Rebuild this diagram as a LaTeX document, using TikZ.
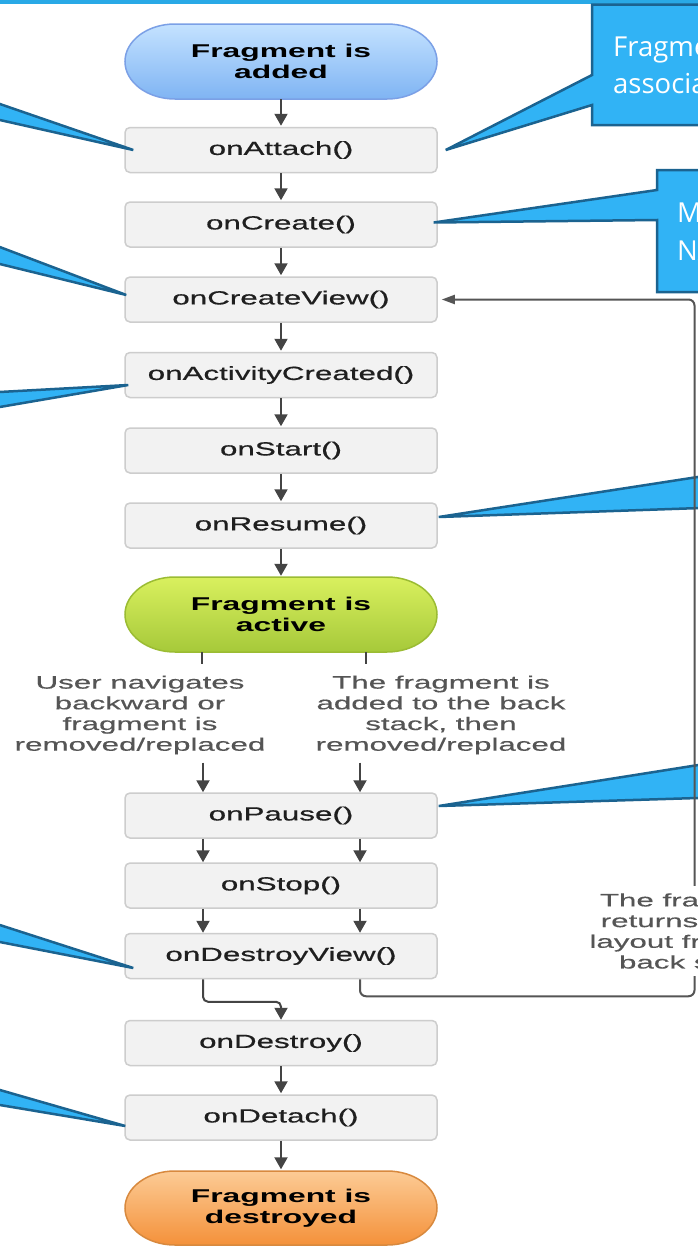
\documentclass[tikz,border=0pt]{standalone}
\usepackage{fontspec}
\newfontfamily\diagfont[FakeStretch=1.65,FakeBold=0.6]{Liberation Sans}
\newfontfamily\lblfont[FakeStretch=1.74,FakeBold=0.4]{Liberation Sans}
\newfontfamily\pillfont[FakeStretch=1.72]{Liberation Sans Bold}
\newfontfamily\calloutfont{Open Sans}
\usetikzlibrary{arrows.meta,calc}

\definecolor{boxfill}{HTML}{F2F2F2}
\definecolor{boxline}{HTML}{CDCDCD}
\definecolor{arrowc}{HTML}{444444}
\definecolor{loopc}{HTML}{555555}
\definecolor{callfill}{HTML}{31B3F5}
\definecolor{callline}{HTML}{1B6390}
\definecolor{topbar}{HTML}{29A9E6}
\definecolor{lbltext}{HTML}{555555}
\definecolor{blueTop}{HTML}{C4E2FF}
\definecolor{blueBot}{HTML}{7FB4F3}
\definecolor{blueLine}{HTML}{7BA0E6}
\definecolor{greenTop}{HTML}{D9F05E}
\definecolor{greenBot}{HTML}{A6C93A}
\definecolor{greenLine}{HTML}{9BBC33}
\definecolor{orangeTop}{HTML}{FCCB95}
\definecolor{orangeBot}{HTML}{F4913A}
\definecolor{orangeLine}{HTML}{D8893E}

\begin{document}
\begin{tikzpicture}[x=1pt,y=-1pt,
  lifebox/.style={rectangle, rounded corners=5pt, draw=boxline, line width=1.5pt,
    fill=boxfill, minimum width=312pt, minimum height=45pt, inner sep=0pt,
    font=\diagfont\fontsize{19}{22}\selectfont, text=black!88},
  pilltext/.style={rectangle, minimum width=312pt, minimum height=75pt, inner sep=0pt,
    align=center, font=\pillfont\fontsize{18.5}{20.5}\selectfont, text=black},
  flow/.style={draw=arrowc, line width=2pt, -{Triangle[width=13pt,length=12pt]}},
  stub/.style={draw=arrowc, line width=2pt},
  loopline/.style={draw=loopc, line width=2pt, rounded corners=6pt},
  lbl/.style={align=center, font=\lblfont\fontsize{18}{20.7}\selectfont,
    text=lbltext, inner sep=0pt},
  callout/.style={fill=callfill, draw=callline, line width=2.5pt},
  calltext/.style={font=\calloutfont\fontsize{27.5}{37}\selectfont, text=white,
    anchor=base west, inner sep=0pt},
]
\useasboundingbox (0,0) rectangle (698,1250);
\clip (0,0) rectangle (698,1250);
\fill[white] (0,0) rectangle (698,1250);
\fill[topbar] (0,0) rectangle (698,3.5);

% ---- pills ----
\shadedraw[top color=blueTop, bottom color=blueBot, draw=blueLine, line width=1.5pt]
  (175,24) -- (387,24) arc[start angle=-90,end angle=90,x radius=50,y radius=37.5]
  -- (175,99) arc[start angle=90,end angle=270,x radius=50,y radius=37.5] -- cycle;
\shadedraw[top color=greenTop, bottom color=greenBot, draw=greenLine, line width=1.5pt]
  (175,577) -- (387,577) arc[start angle=-90,end angle=90,x radius=50,y radius=37.5]
  -- (175,652) arc[start angle=90,end angle=270,x radius=50,y radius=37.5] -- cycle;
\shadedraw[top color=orangeTop, bottom color=orangeBot, draw=orangeLine, line width=1.5pt]
  (175,1171) -- (387,1171) arc[start angle=-90,end angle=90,x radius=50,y radius=37]
  -- (175,1245) arc[start angle=90,end angle=270,x radius=50,y radius=37] -- cycle;

% ---- nodes ----
\node[pilltext] (added) at (281,61.5) {Fragment is\\added};
\node[lifebox] (attach) at (281,150) {onAttach()};
\node[lifebox] (create) at (281,224.5) {onCreate()};
\node[lifebox] (cview) at (281,299.5) {onCreateView()};
\node[lifebox] (acreated) at (281,375) {onActivityCreated()};
\node[lifebox] (start) at (281,450.5) {onStart()};
\node[lifebox] (resume) at (281,525.5) {onResume()};
\node[pilltext] (active) at (281,614.5) {Fragment is\\active};
\node[lbl] (lblL) at (140,715) {User navigates\\backward or\\fragment is\\removed/replaced};
\node[lbl] (lblR) at (441,715) {The fragment is\\added to the back\\stack, then\\removed/replaced};
\node[lifebox] (pause) at (281,815.5) {onPause()};
\node[lifebox] (stop) at (281,885.5) {onStop()};
\node[lifebox] (dview) at (281,956) {onDestroyView()};
\node[lifebox] (destroy) at (281,1043) {onDestroy()};
\node[lifebox] (detach) at (281,1117.5) {onDetach()};
\node[pilltext] (destroyed) at (281,1208) {Fragment is\\destroyed};

\coordinate (colL) at (203,0);
\coordinate (colR) at (360,0);
\coordinate (stubL) at (202,0);
\coordinate (stubR) at (366,0);
\coordinate (loopX) at (694.5,0);

% ---- straight arrows ----
\foreach \a/\b in {added/attach, attach/create, create/cview, cview/acreated,
  acreated/start, start/resume, resume/active, destroy/detach, detach/destroyed}
  \draw[flow, shorten >=1pt] (\a) -- (\b);

% ---- split branches ----
\draw[stub, shorten >=11pt] (active.south -| stubL) -- (lblL.north -| stubL);
\draw[stub, shorten >=11pt] (active.south -| stubR) -- (lblR.north -| stubR);
\draw[flow, shorten <=8pt] (lblL.south -| colL) -- (pause.north -| colL);
\draw[flow, shorten <=8pt] (lblR.south -| colR) -- (pause.north -| colR);
\draw[flow] (pause.south -| colL) -- (stop.north -| colL);
\draw[flow] (pause.south -| colR) -- (stop.north -| colR);
\draw[flow] (stop.south -| colL) -- (dview.north -| colL);
\draw[flow] (stop.south -| colR) -- (dview.north -| colR);
\draw[flow, rounded corners=5pt] (dview.south -| colL) |- ([yshift=18pt]destroy.north) -- (destroy.north);

% ---- callouts (right) ----
\draw[callout] (592,4.5) -- (720,4.5) -- (720,125) -- (592,125) -- (592,105)
  -- ([xshift=8pt]attach.east) -- (592,75) -- cycle;
\node[calltext] (c1a) at (613,56) {Fragment};
\node[calltext] (c1b) at (613,93) {associated};
\draw[callout] (657,170) -- (720,170) -- (720,292) -- (657,292) -- (657,220)
  -- ([xshift=-4pt,yshift=2pt]create.east) -- (657,190) -- cycle;
\node[calltext] (c2a) at (677,222) {M};
\node[calltext] (c2b) at (677,260) {NA};
\draw[callout] (730,472) -- ([xshift=1pt,yshift=8.5pt]resume.east) -- (730,507) -- cycle;
\draw[callout] (730,760) -- ([xshift=1pt,yshift=9.5pt]pause.east) -- (730,797) -- cycle;

% ---- callouts (left) ----
\draw[callout] (-30,93.7) -- ([xshift=9pt]attach.west) -- (-30,113.3) -- cycle;
\draw[callout] (-30,235.7) -- ([xshift=2pt,yshift=4.5pt]cview.west) -- (-30,256.7) -- cycle;
\draw[callout] (-30,393.6) -- ([xshift=4pt,yshift=-10pt]acreated.west) -- (-30,412.1) -- cycle;
\draw[callout] (-30,915.4) -- ([xshift=9pt,yshift=-12pt]dview.west) -- (-30,936.2) -- cycle;
\draw[callout] (-30,1081.4) -- ([xshift=1pt,yshift=-8.5pt]detach.west) -- (-30,1100) -- cycle;

% ---- loop back to onCreateView ----
\draw[loopline, -{Triangle[width=9pt,length=13pt]}, shorten >=4pt]
  (dview.south -| colR) |- ([yshift=-17pt]dview.south -| loopX)
  -- (cview.east -| loopX) -- (cview.east);
\node[lbl, fill=white, inner xsep=3pt, inner ysep=7pt] (retlbl) at (693,931)
  {The fragment\\returns to the\\layout from the\\back stack};
\end{tikzpicture}
\end{document}
